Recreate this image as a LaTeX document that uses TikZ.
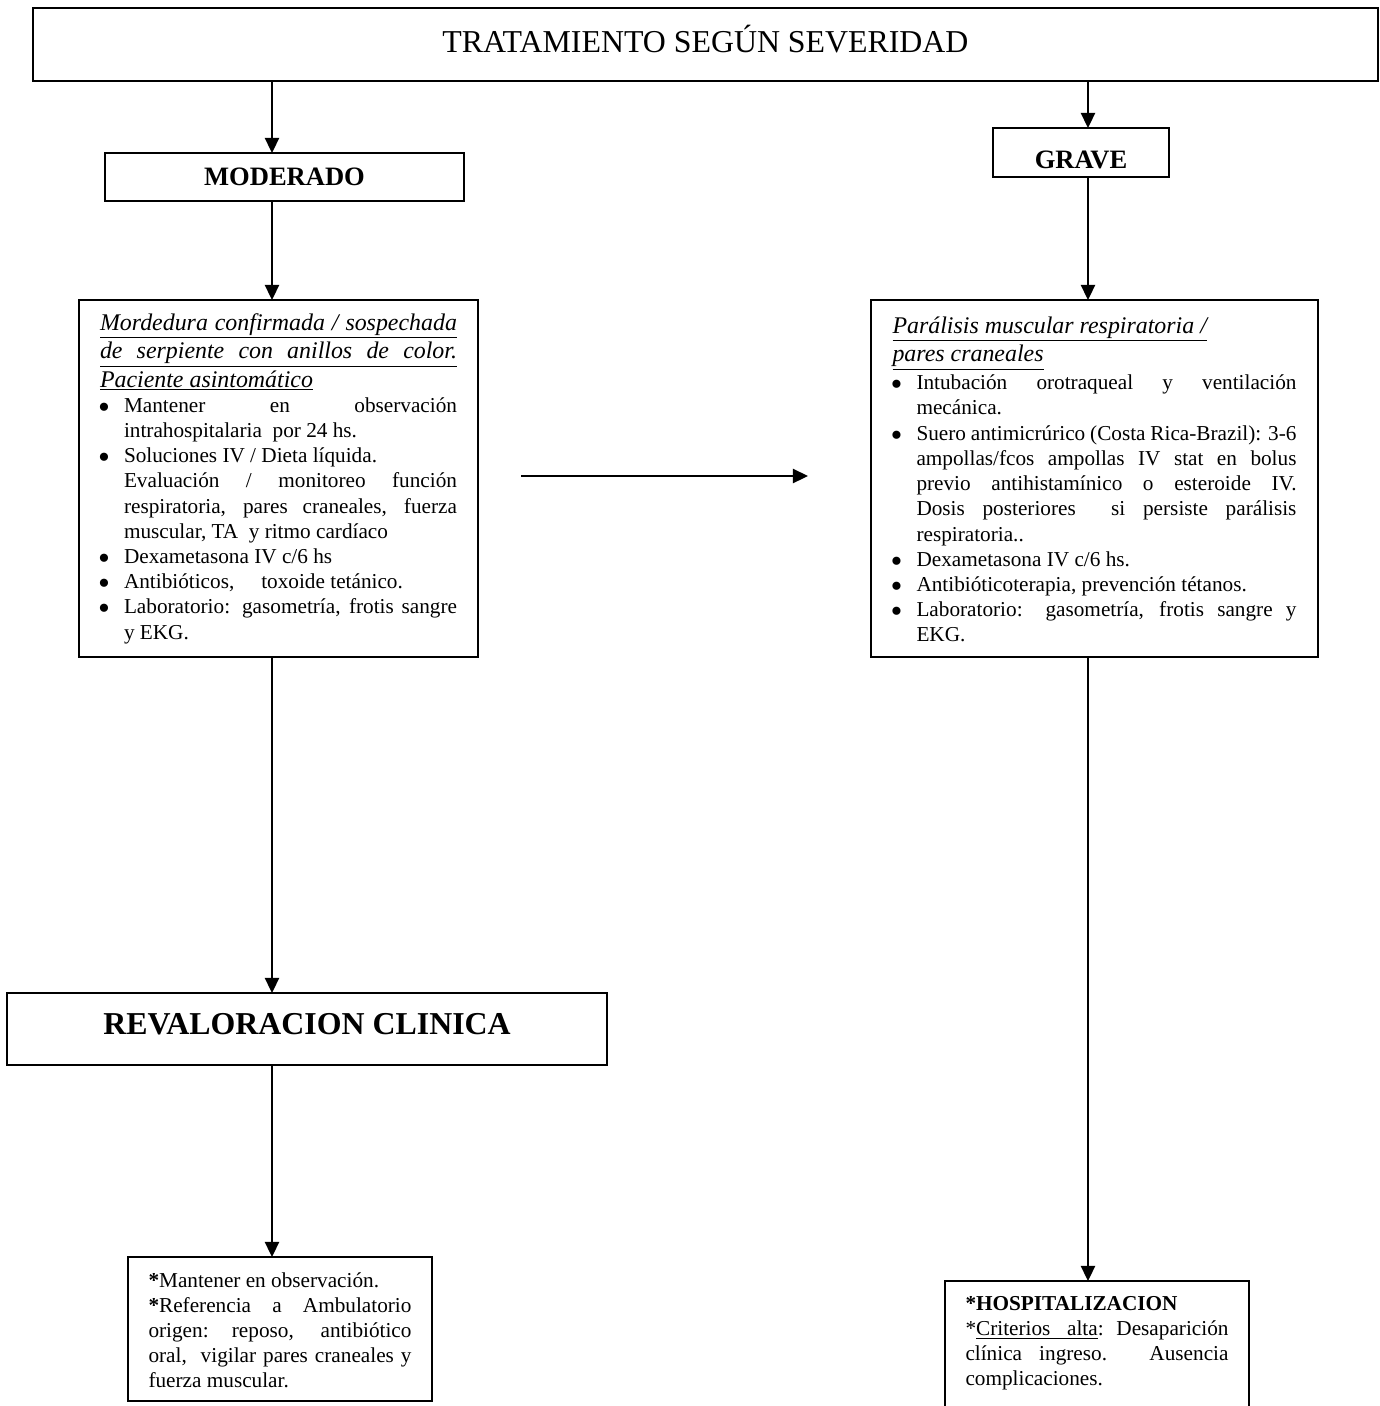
\documentclass[tikz,border=0pt]{standalone}
\usepackage{fontspec}
\setmainfont{Liberation Serif}
\usetikzlibrary{arrows.meta}
\usetikzlibrary{positioning}

\newlength{\px}
\setlength{\px}{0.565pt}
\hyphenpenalty=10000
\exhyphenpenalty=10000
\tolerance=9999

\tikzset{
  caja/.style={draw,line width=1pt,inner sep=0pt,outer sep=0pt},
  texto/.style={caja,anchor=north west,align=justify,inner ysep=0pt,font=\fontsize{12}{14.25}\selectfont},
}

% one underlined heading line, stretched to the full width
\newcommand{\lineasub}[1]{\underline{\makebox[\linewidth][s]{#1}}\par}
% an underlined space that may stretch
\newcommand{\espsub}{\leaders\hrule height -1.3pt depth 1.7pt\hskip 0.25em plus 0.5em minus 0.08em}
\newcommand{\punto}{\makebox[0pt][c]{\smash{\raisebox{-3.3pt}{\scalebox{1.6}{\textbullet}}}}}

\newenvironment{puntos}{\begin{list}{\punto}{\setlength{\leftmargin}{24\px}\setlength{\labelwidth}{0pt}\setlength{\labelsep}{20\px}\setlength{\itemsep}{0pt}\setlength{\parsep}{0pt}\setlength{\topsep}{0pt}\setlength{\partopsep}{0pt}\setlength{\listparindent}{0pt}}}{\end{list}}

\begin{document}
\begin{tikzpicture}[x=\px,y=-\px,>={Triangle[length=8.5pt,width=8pt]},line width=1pt]
\useasboundingbox (0,0) rectangle (1380,1406);
\clip (0,0) rectangle (1380,1406);

\node[caja,minimum width=1345\px,minimum height=73\px,font=\fontsize{18}{20}\selectfont,text height=21\px,text depth=5\px] (title) at (705.5,44.5) {TRATAMIENTO SEGÚN SEVERIDAD};
\node[caja,minimum width=359\px,minimum height=48\px,font=\bfseries\fontsize{15}{18}\selectfont] (mod) at (284.5,177) {MODERADO};
\node[caja,minimum width=176\px,minimum height=49\px,font=\bfseries\fontsize{15}{18}\selectfont,text height=31\px,text depth=0pt] (grave) at (1081,152.5) {GRAVE};

\node[texto,text width=357\px,inner xsep=21\px,text height=30\px,text depth=327\px] (modtx) at (79,300) {%
{\fontsize{13.5}{16.1}\selectfont\itshape
\lineasub{Mordedura confirmada / sospechada}
\lineasub{de serpiente con anillos de color.}
\underline{Paciente asintomático}\par}
\begin{puntos}
\item Mantener en observación\linebreak intrahospitalaria\ \ por 24 hs.
\item Soluciones IV / Dieta líquida.\par Evaluación / monitoreo función\linebreak respiratoria, pares craneales, fuerza\linebreak muscular, TA\ \ y ritmo cardíaco
\item Dexametasona IV c/6 hs
\item Antibióticos,\hspace{27\px}toxoide tetánico.
\item Laboratorio: gasometría, frotis sangre\linebreak y EKG.
\end{puntos}};

\node[texto,text width=404\px,inner xsep=21.5\px,text height=33\px,text depth=324\px] (gravetx) at (871,300) {%
{\fontsize{13.5}{16.1}\selectfont\itshape
\underline{Parálisis muscular respiratoria /}\par
\underline{pares craneales}\par}
\vspace{3\px}
\begin{puntos}
\item Intubación orotraqueal y ventilación\linebreak mecánica.
\item Suero antimicrúrico (Costa Rica-Brazil): 3-6\linebreak ampollas/fcos ampollas IV stat en bolus\linebreak previo antihistamínico o esteroide IV.\linebreak Dosis posteriores\ \ si persiste parálisis\linebreak respiratoria..
\item Dexametasona IV c/6 hs.
\item Antibióticoterapia, prevención tétanos.
\item Laboratorio: gasometría, frotis sangre y\linebreak EKG.
\end{puntos}};

\node[caja,minimum width=600\px,minimum height=72\px,font=\bfseries\fontsize{18}{21}\selectfont,text height=21.5\px,text depth=10\px] (reval) at (307,1029) {REVALORACION CLINICA};

\node[texto,text width=263\px,inner xsep=20.5\px,text height=30\px,text depth=114\px] (ambul) at (128,1257) {%
\textbf{*}Mantener en observación.\par
\textbf{*}Referencia a Ambulatorio\linebreak origen: reposo,\ \ antibiótico\linebreak oral,\ \ vigilar pares craneales y\linebreak fuerza muscular.};

\node[texto,text width=263\px,inner xsep=20.5\px,text height=29\px,text depth=200\px] (hosp) at (945,1281) {%
\textbf{*HOSPITALIZACION}\par
*\underline{Criterios}\espsub\underline{alta}: Desaparición\linebreak clínica ingreso. Ausencia\linebreak complicaciones.};

\coordinate (izq) at (272,0);
\coordinate (der) at (1088,0);
\coordinate (h1) at (521,476);
\coordinate (h2) at (808,476);

\draw[->] (title.south -| izq) -- (mod.north -| izq);
\draw[->] (mod.south -| izq) -- (modtx.north -| izq);
\draw[->] (modtx.south -| izq) -- (reval.north -| izq);
\draw[->] (reval.south -| izq) -- (ambul.north -| izq);

\draw[->] (title.south -| der) -- (grave.north -| der);
\draw[->] (grave.south -| der) -- (gravetx.north -| der);
\draw[->] (gravetx.south -| der) -- (hosp.north -| der);

\draw[->] (h1) -- (h2);

\end{tikzpicture}
\end{document}
